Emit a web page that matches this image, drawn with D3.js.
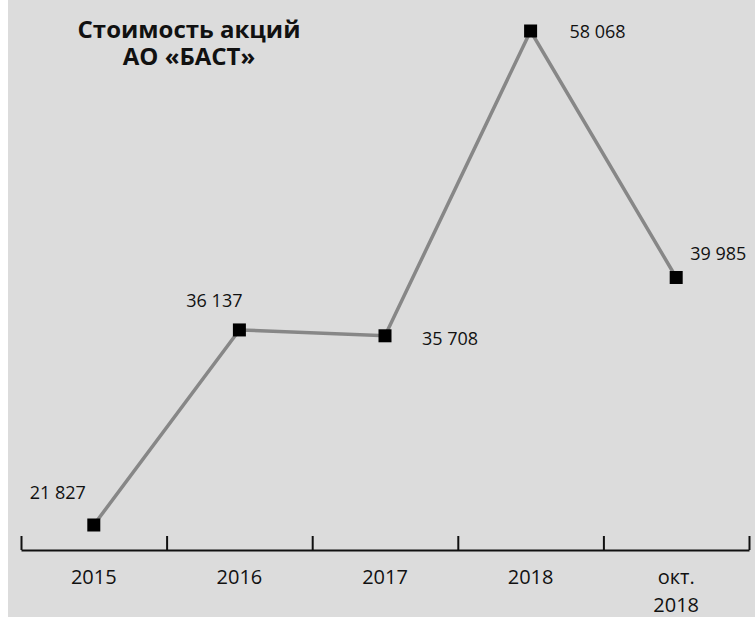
<!DOCTYPE html>
<html><head><meta charset="utf-8">
<script src="https://cdn.jsdelivr.net/npm/d3@7"></script>
<style>
html,body{margin:0;padding:0;background:#fff;}
svg{display:block;}
text{font-family:"Open Sans",sans-serif;fill:#111;}
</style></head>
<body>
<script>
const categories = ["2015","2016","2017","2018","окт.\n2018"];
const values = [21827, 36137, 35708, 58068, 39985];
const valueLabels = ["21 827","36 137","35 708","58 068","39 985"];
const titleLines = ["Стоимость акций","АО «БАСТ»"];

const W = 755, H = 617;
const svg = d3.select("body").append("svg").attr("width", W).attr("height", H);
svg.append("rect").attr("x", 8).attr("y", 0).attr("width", W - 8).attr("height", H).attr("fill", "#dcdcdc");

const x = d3.scaleBand().domain(categories).range([21, 749]).padding(0);
const y = d3.scaleLinear().domain(d3.extent(values)).range([525, 31]);
const xb = d3.scaleLinear().domain([0, categories.length]).range([21, 749]);

// axis with boundary ticks
const axisG = svg.append("g").attr("transform", "translate(0,550)")
  .call(d3.axisBottom(xb).tickValues(d3.range(categories.length + 1)).tickSizeInner(-14).tickSizeOuter(0).tickFormat(""));
axisG.selectAll("path,line").attr("stroke", "#111").attr("stroke-width", 2);

// category labels
const lab = svg.append("g").selectAll("text").data(categories).join("text")
  .attr("x", d => x(d) + x.bandwidth() / 2)
  .attr("y", 584)
  .attr("text-anchor", "middle")
  .style("font-size", "20px");
lab.each(function(d){
  const parts = d.split("\n");
  const t = d3.select(this);
  parts.forEach((p,i)=>{
    t.append("tspan").attr("x", x(d) + x.bandwidth()/2).attr("dy", i===0?0:28).text(p);
  });
});

const pts = categories.map((c,i)=>({c, v: values[i], l: valueLabels[i]}));
const line = d3.line().x(d => x(d.c) + x.bandwidth()/2).y(d => y(d.v));
svg.append("path").datum(pts).attr("d", line).attr("fill","none").attr("stroke","#878787").attr("stroke-width",3.5);

const ms = 13;
svg.append("g").selectAll("rect").data(pts).join("rect")
  .attr("x", d => x(d.c) + x.bandwidth()/2 - ms/2)
  .attr("y", d => y(d.v) - ms/2)
  .attr("width", ms).attr("height", ms).attr("fill","#000");

// value labels offsets (dx, dy relative to point, anchor middle)
const offs = [[-36,-26],[-25,-23],[65,9],[67,7],[42,-17]];
svg.append("g").selectAll("text").data(pts).join("text")
  .attr("x", (d,i) => x(d.c) + x.bandwidth()/2 + offs[i][0])
  .attr("y", (d,i) => y(d.v) + offs[i][1])
  .attr("text-anchor","middle")
  .style("font-size","18px")
  .text(d => d.l);

// title (single text element, two lines)
const title = svg.append("text")
  .attr("x", 189).attr("y", 38)
  .attr("text-anchor","middle")
  .style("font-size","24px").style("font-weight","bold");
title.selectAll("tspan").data(titleLines).join("tspan")
  .attr("x", 189).attr("dy", (d,i)=> i===0 ? 0 : 27)
  .text(d=>d);
</script>
</body></html>
